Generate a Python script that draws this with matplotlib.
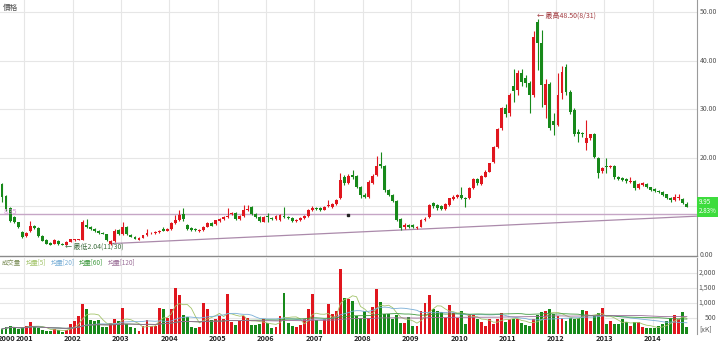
import numpy as np
import pandas as pd
import matplotlib
matplotlib.use('Agg')
import matplotlib.pyplot as plt
import matplotlib.transforms as mtransforms

plt.rcParams['font.family'] = ['Noto Sans CJK TC', 'DejaVu Sans']

# monthly bars, first bar = 2000-07
years = list(range(2000, 2015))
first_year, first_month = 2000, 7

opens = [14.6, 12.2, 9.6, 7.8, 6.7, 4.8,
         3.9, 5.0, 6.0, 5.6, 3.9, 3.1, 2.4, 2.3, 2.9, 2.3, 2.15, 2.7,
         3.1, 3.15, 3.1, 6.2, 5.7, 5.3, 4.9, 4.6, 4.3, 2.3, 2.8, 5.1,
         4.3, 5.7, 4.2, 3.8, 3.1, 3.6, 4.1, 4.5, 4.6, 4.8, 5.3, 5.0,
         5.3, 6.6, 7.2, 8.4, 6.2, 5.6, 5.3, 4.9, 5.1, 5.8, 6.6, 6.4,
         7.1, 7.4, 7.9, 8.4, 8.6, 7.4, 8.0, 9.2, 9.8, 8.4, 7.9, 6.9,
         7.95, 7.7, 7.5, 7.3, 8.1, 7.9, 7.7, 7.1, 7.2, 7.6, 8.0, 9.3,
         9.7, 9.6, 9.3, 10.0, 9.8, 10.4, 11.7, 16.1, 14.9, 16.5, 16.2, 14.1,
         12.3, 12.0, 14.9, 16.5, 18.7, 18.3, 13.4, 12.35, 11.2, 7.5, 5.8, 6.2,
         6.1, 5.6, 5.8, 7.2, 7.9, 10.8, 10.3, 10.1, 9.4, 10.3, 11.45, 11.86,
         12.35, 11.7, 11.66, 13.7, 15.6, 14.6, 16.1, 17.15, 19.2, 22.3, 26.06, 30.2,
         29.15, 34.8, 33.95, 37.5, 36.35, 35.3, 32.9, 48.0, 43.6, 30.9, 35.2, 27.6,
         26.8, 33.3, 38.7, 33.6, 29.9, 25.3, 25.1, 23.0, 24.0, 24.9, 19.9, 17.2,
         18.3, 18.2, 18.3, 16.0, 15.8, 15.6, 15.0, 15.3, 13.7, 14.5, 14.7, 13.9,
         13.5, 13.1, 13.0, 12.5, 11.8, 11.4, 11.75, 11.6, 10.6]
highs = [14.9, 12.4, 9.8, 8.0, 6.9, 5.0,
         4.8, 7.1, 6.2, 5.8, 4.1, 3.2, 2.6, 3.2, 3.0, 2.4, 2.8, 3.3,
         3.3, 3.4, 7.2, 7.5, 5.9, 5.5, 5.1, 4.8, 4.4, 3.0, 5.3, 5.3,
         6.9, 5.9, 4.4, 4.0, 3.7, 4.2, 5.3, 4.8, 5.0, 5.2, 5.8, 5.5,
         6.7, 8.2, 9.3, 9.6, 6.4, 5.8, 5.5, 5.3, 6.0, 6.7, 6.8, 7.3,
         7.6, 8.1, 9.6, 8.9, 8.8, 8.2, 10.3, 10.3, 10.0, 8.6, 8.0, 8.1,
         8.7, 7.9, 8.2, 8.4, 9.95, 8.1, 7.8, 7.5, 7.9, 8.3, 9.5, 10.0,
         9.9, 9.8, 10.1, 11.3, 10.7, 11.5, 16.8, 16.5, 16.6, 17.5, 16.4, 14.3,
         12.8, 15.4, 16.6, 20.4, 21.1, 18.5, 13.6, 12.5, 11.3, 7.7, 6.5, 6.4,
         6.3, 6.0, 7.4, 7.8, 10.6, 11.0, 10.5, 10.3, 10.7, 11.8, 12.4, 12.5,
         14.06, 11.9, 13.9, 15.8, 15.9, 16.5, 17.4, 19.0, 22.4, 26.1, 30.5, 31.0,
         33.4, 38.2, 38.0, 38.2, 37.0, 35.8, 46.0, 48.5, 46.3, 36.3, 35.6, 29.2,
         37.4, 38.8, 39.4, 34.0, 30.3, 26.0, 25.4, 27.8, 25.0, 25.1, 20.2, 18.2,
         19.9, 18.6, 18.5, 16.3, 16.0, 15.8, 16.0, 15.5, 14.9, 15.0, 14.9, 14.1,
         13.7, 13.3, 13.1, 12.6, 12.0, 12.6, 12.6, 11.8, 10.9]
lows = [11.0, 9.1, 6.7, 6.5, 5.6, 3.6,
        3.7, 4.8, 5.4, 3.7, 2.8, 2.2, 2.1, 2.2, 2.1, 2.05, 2.04, 2.6,
        2.9, 3.0, 3.0, 5.5, 5.2, 4.8, 4.4, 4.3, 2.9, 2.1, 2.7, 4.2,
        4.2, 4.2, 3.7, 3.3, 3.0, 3.5, 4.0, 4.3, 4.4, 4.6, 4.9, 4.9,
        5.2, 6.4, 7.0, 7.0, 5.2, 5.0, 4.9, 4.8, 5.0, 5.7, 5.9, 6.2,
        6.9, 7.2, 7.7, 8.2, 7.2, 7.2, 7.9, 9.0, 8.2, 7.7, 6.8, 6.8,
        6.9, 7.3, 7.3, 7.1, 7.6, 7.5, 6.9, 6.9, 7.1, 7.5, 7.9, 9.1,
        9.2, 9.1, 9.2, 9.8, 9.6, 10.2, 11.5, 14.4, 14.7, 15.7, 13.8, 11.7,
        11.7, 11.8, 14.6, 16.2, 18.0, 13.0, 12.1, 11.0, 7.0, 5.15, 5.4, 5.6,
        5.5, 5.4, 5.7, 7.0, 7.7, 9.7, 9.3, 9.2, 9.3, 10.1, 11.3, 11.7,
        11.5, 9.95, 11.5, 13.5, 14.5, 14.4, 16.0, 17.0, 19.0, 22.1, 25.8, 28.5,
        28.6, 31.5, 33.0, 34.8, 34.5, 29.2, 32.5, 38.0, 30.5, 28.1, 25.8, 24.7,
        26.5, 32.0, 33.0, 29.0, 24.5, 23.3, 24.2, 21.6, 23.7, 20.0, 15.8, 16.9,
        16.8, 17.9, 15.7, 15.4, 15.2, 14.9, 14.9, 13.3, 13.5, 14.3, 13.7, 13.2,
        13.0, 12.8, 12.1, 11.5, 11.0, 11.2, 11.3, 10.5, 9.8]
closes = [12.0, 9.4, 7.0, 6.7, 5.8, 3.8,
          4.5, 6.0, 5.6, 3.9, 2.9, 2.3, 2.15, 3.1, 2.2, 2.1, 2.7, 3.2,
          3.2, 3.3, 6.8, 5.7, 5.3, 4.9, 4.5, 4.4, 3.0, 2.8, 5.0, 4.3,
          5.7, 4.3, 3.8, 3.4, 3.6, 4.1, 4.5, 4.6, 4.8, 5.0, 5.0, 5.3,
          6.5, 7.2, 8.3, 7.5, 5.4, 5.2, 5.1, 5.1, 5.8, 6.5, 6.0, 7.2,
          7.4, 7.9, 8.1, 8.6, 7.4, 8.0, 9.2, 9.5, 8.4, 7.9, 7.0, 7.9,
          7.8, 7.5, 8.0, 8.2, 7.8, 7.7, 7.1, 7.3, 7.7, 8.0, 9.3, 9.6,
          9.4, 9.3, 9.9, 10.3, 10.5, 11.3, 15.4, 14.8, 16.2, 16.1, 14.1, 12.3,
          12.0, 15.1, 16.25, 18.3, 18.3, 13.4, 12.35, 11.2, 7.3, 5.5, 6.2, 5.8,
          5.7, 5.8, 7.2, 7.5, 10.3, 10.0, 9.6, 9.4, 10.5, 11.66, 12.0, 12.35,
          11.66, 11.6, 13.7, 15.6, 14.75, 16.25, 17.15, 18.86, 22.15, 25.85, 30.2, 29.0,
          32.9, 33.8, 37.4, 35.7, 35.3, 32.9, 44.9, 43.6, 35.0, 35.2, 26.1, 26.8,
          32.9, 37.7, 33.6, 29.5, 25.0, 24.9, 24.8, 24.0, 24.8, 20.2, 16.8, 18.0,
          18.2, 18.4, 16.0, 15.7, 15.4, 15.2, 15.3, 13.7, 14.7, 14.8, 13.9, 13.4,
          13.2, 13.0, 12.3, 11.7, 11.4, 11.9, 11.85, 10.8, 9.95]
volumes = [150, 200, 260, 200, 150, 170,
           254, 390, 220, 170, 120, 90, 90, 146, 120, 60, 120, 310,
           420, 580, 959, 817, 434, 412, 434, 200, 200, 342, 493, 412,
           830, 310, 222, 168, 92, 233, 450, 233, 233, 850, 797, 526,
           819, 1500, 1284, 620, 550, 201, 180, 200, 1013, 797, 439, 493,
           580, 472, 1306, 385, 277, 417, 580, 526, 277, 277, 309, 493,
           342, 168, 201, 580, 1338, 342, 255, 223, 277, 493, 818, 1306,
           450, 125, 472, 959, 634, 742, 2129, 1154, 1121, 1067, 580, 526,
           742, 526, 883, 1468, 1035, 634, 634, 472, 602, 342, 342, 560,
           233, 233, 742, 992, 1284, 797, 742, 710, 526, 927, 688, 526,
           742, 309, 634, 602, 472, 364, 255, 472, 309, 472, 667, 385,
           472, 472, 472, 342, 277, 233, 493, 602, 710, 742, 797, 634,
           580, 526, 417, 526, 493, 526, 775, 742, 417, 580, 688, 851,
           309, 417, 309, 309, 472, 385, 255, 364, 364, 201, 180, 180,
           180, 233, 309, 417, 526, 600, 472, 710, 201]

ma_periods = [5, 20, 60, 120]
level_price = 8.35
trend_x = [27, 172.5]
trend_y = [2.35, 8.0]
event_x, event_y = 86, 8.3
high_idx, high_val, high_date = 133, 48.50, '8/31'
low_idx, low_val, low_date = 16, 2.04, '11/30'
last_close, last_change = 9.95, '2.83%'

RED = '#e0161e'
GREEN = '#17891a'
GRID = '#e6e6e6'
LABEL = '#555555'

x = np.arange(len(closes))
o = np.array(opens); h = np.array(highs); l = np.array(lows); c = np.array(closes)
up = c >= o
colors = np.where(up, RED, GREEN)

fig = plt.figure(figsize=(7.2, 3.43), dpi=100)
ax = fig.add_axes([0, 0.2536, 0.968, 0.7464])
axv = fig.add_axes([0, 0.0262, 0.968, 0.2216])

# year grid (January of each year)
jan_idx = [(y - first_year) * 12 + 1 - first_month for y in years]
for a in (ax, axv):
    for j in jan_idx:
        if j > 0:
            a.axvline(j - 0.5, color=GRID, lw=0.8, zorder=0)

# price panel
for p in range(10, 60, 10):
    ax.axhline(p, color=GRID, lw=0.8, zorder=0)
ax.vlines(x, l, h, colors=colors, lw=0.8, zorder=2)
body = np.maximum(np.abs(c - o), 0.12)
ax.bar(x, body, bottom=np.minimum(o, c), width=0.72, color=colors,
       linewidth=0, zorder=3)

ax.axhline(level_price, color='#c6a6c6', lw=1.0, zorder=1)
ax.plot(trend_x, trend_y, color='#ab8aab', lw=0.9, zorder=1)
ax.plot([event_x], [event_y], 's', color='#222222', ms=1.8, zorder=4)
ax.text(0.4, level_price + 0.45, f'{level_price:.2f}', color='#d58fd5',
        fontsize=5, va='center', ha='left')

ax.text(high_idx - 0.2, high_val + 0.7, f'← 最高{high_val:.2f}({high_date})',
        color='#a23a3f', fontsize=5, va='center', ha='left')
ax.text(low_idx - 0.4, low_val - 0.4, f'← 最低{low_val:.2f}({low_date})',
        color='#3f6e3f', fontsize=5, va='center', ha='left')

ax.set_xlim(-0.5, 172.5)
ax.set_ylim(-0.2, 52.47)
ax.set_xticks([])
ax.set_yticks([])
for s in ['top', 'left']:
    ax.spines[s].set_visible(False)
ax.spines['right'].set_color('#9a9a9a')
ax.spines['bottom'].set_color('#8a8a8a')
ax.spines['bottom'].set_linewidth(1.0)

trans = mtransforms.blended_transform_factory(ax.transAxes, ax.transData)
for p in [0, 20, 30, 40, 50]:
    ax.text(1.004, p, f'{p:.2f}', transform=trans, fontsize=5, color=LABEL,
            va='center', ha='left')
ax.text(1.002, last_close, f'{last_close:.2f}\n{last_change}', transform=trans,
        fontsize=4.5, color='white', va='center', ha='left', linespacing=1.1,
        bbox=dict(boxstyle='square,pad=0.25', fc='#3ddc3d', ec='none'))
ax.text(0.004, 0.985, '價格', transform=ax.transAxes, fontsize=5.5,
        color=LABEL, va='top', ha='left')

# volume panel
vol = pd.Series(volumes, dtype=float)
ma_colors = ['#a3c46a', '#78aed6', '#3f9a3f', '#9a6d97']
for v in range(500, 2500, 500):
    axv.axhline(v, color=GRID, lw=0.8, zorder=0)
axv.bar(x, volumes, width=0.72, color=colors, linewidth=0, zorder=2)
for n, col in zip(ma_periods, ma_colors):
    axv.plot(x, vol.rolling(n, min_periods=1).mean(), color=col, lw=0.6, zorder=3)

axv.set_xlim(-0.5, 172.5)
axv.set_ylim(-16, 2486)
axv.set_yticks([])
for s in ['top', 'left', 'bottom']:
    axv.spines[s].set_visible(False)
axv.spines['right'].set_color('#9a9a9a')

vtrans = mtransforms.blended_transform_factory(axv.transAxes, axv.transData)
for v in range(500, 2500, 500):
    axv.text(1.0275, v, f'{v:,}', transform=vtrans, fontsize=5, color=LABEL,
             va='center', ha='right')
axv.text(1.004, 130, '[xK]', transform=vtrans, fontsize=5, color=LABEL,
         va='center', ha='left')

# legend texts placed one after another
legend_items = [('成交量', '#7d8f5a')] + [(f'均量[{n}]', col) for n, col in zip(ma_periods, ma_colors)]
renderer = fig.canvas.get_renderer()
lx = 2
for txt, col in legend_items:
    t = axv.text(lx / 697, 0.93, txt, transform=axv.transAxes, fontsize=4.6,
                 color=col, va='center', ha='left')
    bb = t.get_window_extent(renderer=renderer)
    lx = bb.x1 + 4.5

# year labels
tick_pos = [0] + [j for j in jan_idx if j > 0]
axv.set_xticks([p - 0.5 if p > 0 else 1.2 for p in tick_pos])
axv.set_xticklabels([str(y) for y in years], fontsize=5.3, fontweight='bold',
                    color='#222222')
axv.tick_params(axis='x', length=0, pad=0.8)

fig.savefig('out.png', dpi=100, facecolor='white')
